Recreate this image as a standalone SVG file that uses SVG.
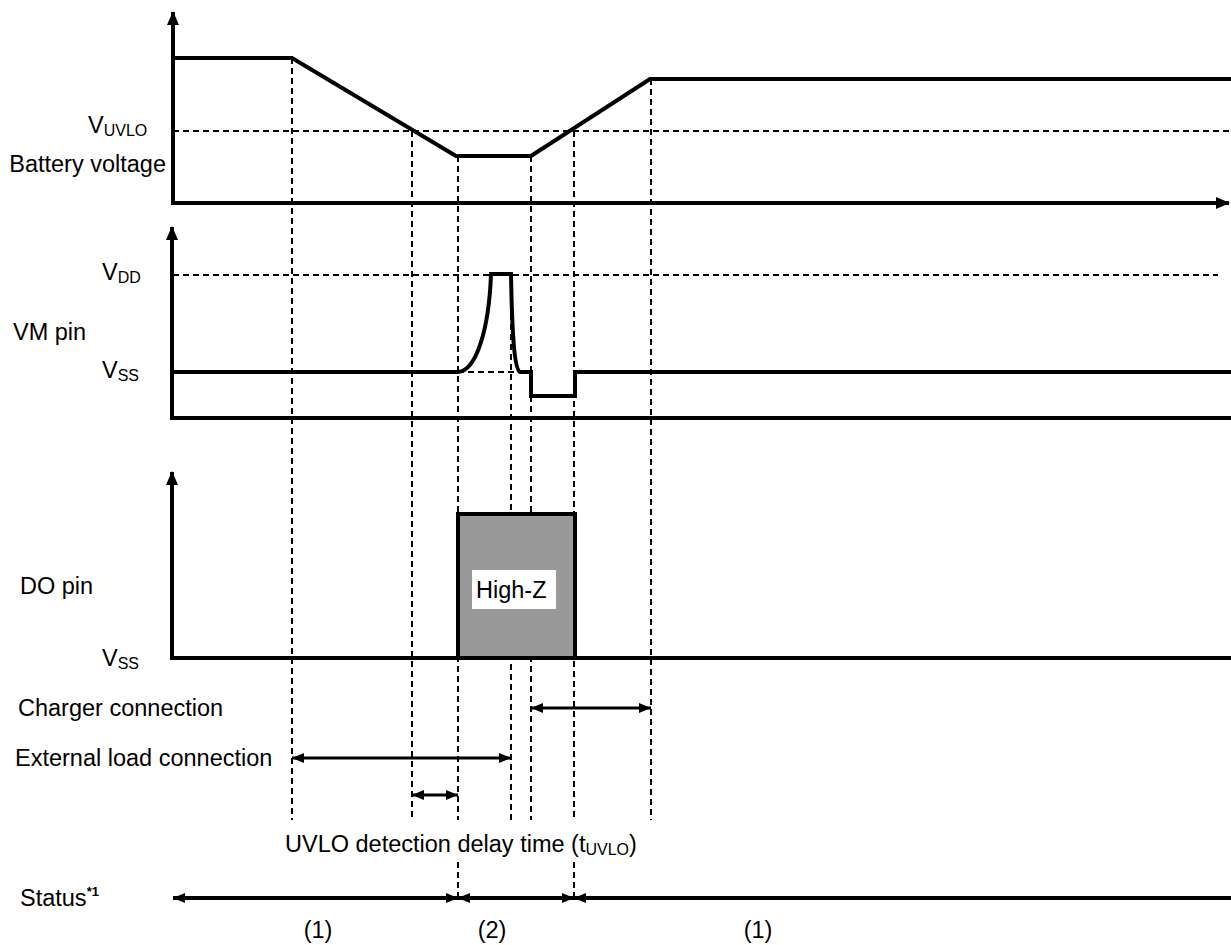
<svg xmlns="http://www.w3.org/2000/svg" width="1231" height="945" viewBox="0 0 1231 945">
<style>
text{font-family:"Liberation Sans",Arial,sans-serif;font-size:23.5px;fill:#000}
.sub{font-size:16px}
.ax{stroke:#000;stroke-width:4;fill:none}
.wave{stroke:#000;stroke-width:4;fill:none;stroke-linejoin:miter}
.dash{stroke:#000;stroke-width:2;stroke-dasharray:6,4;fill:none}
.dim{stroke:#000;stroke-width:3;fill:none;marker-start:url(#ah);marker-end:url(#ah)}
</style>
<defs>
<marker id="ah" viewBox="0 0 12 10" refX="12" refY="5" markerWidth="12" markerHeight="10" markerUnits="userSpaceOnUse" orient="auto-start-reverse"><path d="M0,0 L12,5 L0,10 Z" fill="#000"/></marker>
<marker id="axh" viewBox="0 0 14 12" refX="13" refY="6" markerWidth="14" markerHeight="12" markerUnits="userSpaceOnUse" orient="auto"><path d="M0,0 L14,6 L0,12 Z" fill="#000"/></marker>
</defs>

<g id="guides">
<line class="dash" x1="173" y1="131" x2="1231" y2="131"/>
<line class="dash" x1="173" y1="275" x2="1218" y2="275"/>
<line class="dash" x1="458" y1="372" x2="531" y2="372"/>
<line class="dash" x1="292" y1="58" x2="292" y2="820"/>
<line class="dash" x1="412" y1="131" x2="412" y2="820"/>
<line class="dash" x1="458" y1="156" x2="458" y2="820"/>
<line class="dash" x1="511" y1="274" x2="511" y2="820"/>
<line class="dash" x1="531" y1="156" x2="531" y2="820"/>
<line class="dash" x1="574" y1="131" x2="574" y2="820"/>
<line class="dash" x1="651" y1="79" x2="651" y2="820"/>
<line class="dash" x1="458" y1="862" x2="458" y2="898"/>
<line class="dash" x1="574" y1="862" x2="574" y2="898"/>
</g>

<g id="battery-panel">
<line class="ax" x1="173" y1="204" x2="173" y2="12" marker-end="url(#axh)"/>
<line class="ax" x1="171" y1="203" x2="1229" y2="203" marker-end="url(#axh)"/>
<path class="wave" d="M173,58 H292 L456,156 H531 L650,79 H1231"/>
<text x="88" y="133">V<tspan class="sub" dy="3">UVLO</tspan></text>
<text x="166" y="172" text-anchor="end">Battery voltage</text>
</g>

<g id="vm-panel">
<line class="ax" x1="172" y1="420" x2="172" y2="227" marker-end="url(#axh)"/>
<line class="ax" x1="170" y1="418" x2="1231" y2="418"/>
<path class="wave" d="M173,372 H458 C476,371 489,330 491,274 H511 C512,330 514,369 520,372 H531 V396 H575 V372 H1231"/>
<text x="102" y="280">V<tspan class="sub" dy="3">DD</tspan></text>
<text x="13" y="340">VM pin</text>
<text x="102" y="378">V<tspan class="sub" dy="3">SS</tspan></text>
</g>

<g id="do-panel">
<line class="ax" x1="172" y1="660" x2="172" y2="472" marker-end="url(#axh)"/>
<rect x="458" y="514" width="117" height="144" fill="#999999" stroke="#000" stroke-width="4"/>
<line class="ax" x1="170" y1="658" x2="1231" y2="658"/>
<rect x="472" y="570" width="84" height="39" fill="#fff"/>
<text x="476" y="598">High-Z</text>
<text x="20" y="594">DO pin</text>
<text x="102" y="666">V<tspan class="sub" dy="3">SS</tspan></text>
</g>

<g id="connectors">
<line class="dim" x1="531" y1="708" x2="651" y2="708"/>
<line class="dim" x1="292" y1="758" x2="511" y2="758"/>
<line class="dim" x1="412" y1="795" x2="458" y2="795"/>
<line class="dim" x1="173" y1="898" x2="458" y2="898" style="stroke-width:4"/>
<line class="dim" x1="458" y1="898" x2="574" y2="898" style="stroke-width:4"/>
<line x1="574" y1="898" x2="1231" y2="898" stroke="#000" stroke-width="4" marker-start="url(#ah)"/>
</g>

<g id="labels">
<text x="18" y="716">Charger connection</text>
<text x="15" y="766">External load connection</text>
<text x="285" y="852">UVLO detection delay time (t<tspan class="sub" dy="3">UVLO</tspan><tspan dy="-3">)</tspan></text>
<text x="20" y="906">Status<tspan style="font-size:13px;font-weight:bold" dy="-10">*1</tspan></text>
<text x="318" y="938" text-anchor="middle">(1)</text>
<text x="492" y="938" text-anchor="middle">(2)</text>
<text x="758" y="938" text-anchor="middle">(1)</text>
</g>
</svg>
